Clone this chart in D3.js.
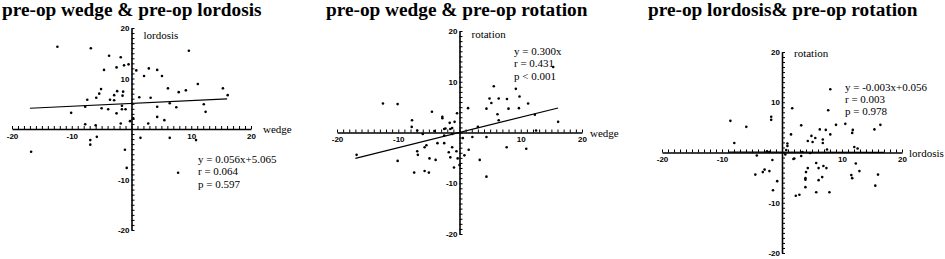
<!DOCTYPE html>
<html>
<head>
<meta charset="utf-8">
<script src="https://cdn.jsdelivr.net/npm/d3@7"></script>
<style>
  body { margin: 0; background: #fff; }
  .title { font-family: "Liberation Serif", "Times New Roman", serif; font-weight: bold; font-size: 19.3px; }
  .lab { font-family: "Liberation Serif", "Times New Roman", serif; font-size: 11px; }
  .stat { font-family: "Liberation Serif", "Times New Roman", serif; font-size: 11px; }
  .axis text { font-family: "Liberation Sans", Arial, sans-serif; font-weight: bold; font-size: 8px; fill: #000; }
  .axis path, .axis line { stroke: #000; }
</style>
</head>
<body>
<div id="chart"></div>
<script>
// Panel 1: pre-op wedge (x) vs pre-op lordosis (y)
var wedgeLordosis = [
  [-12.4, 16.3], [-6.8, 16.0], [9.6, 15.5], [-3.75, 14.5], [-1.8, 14.2], [-2.5, 12.2],
  [-1.25, 12.6], [-0.5, 12.8], [-4.6, 11.7], [0.8, 11.6], [2.9, 12.0], [4.3, 11.7],
  [2.1, 10.5], [5.1, 10.5], [11.1, 8.9], [15.3, 8.05], [16.1, 6.7], [6.1, 8.05],
  [7.9, 7.3], [9.1, 7.65], [-5.1, 7.9], [-5.4, 7.0], [-5.9, 6.2], [-2.4, 7.5],
  [-1.4, 7.4], [-2.9, 6.7], [-1.5, 6.6], [-7.4, 5.8], [-3.6, 5.8], [-2.9, 5.7],
  [1.3, 6.3], [3.2, 6.2], [6.4, 5.1], [12.1, 4.9], [12.4, 3.4], [-7.75, 4.4],
  [-10.1, 3.2], [-5.0, 4.1], [-3.9, 3.9], [-1.6, 4.6], [-1.6, 3.9], [-1.0, 3.9],
  [-2.5, 3.1], [4.3, 4.4], [7.5, 4.3], [4.3, 2.4], [5.5, 1.75], [-1.8, 1.1],
  [-7.75, 0.95], [-6.0, 0.75], [-0.25, 1.55], [0.3, 2.1], [2.8, 1.1], [-6.9, -2.2],
  [-6.9, -3.1], [-5.8, -1.55], [-16.8, -4.5], [-1.1, -4.1], [-0.8, -7.7], [1.5, -1.75],
  [6.4, -1.75], [10.8, -2.2], [7.8, -8.65]
];

// Panel 2: pre-op wedge (x) vs pre-op rotation (y)
var wedgeRotation = [
  [-12.5, 5.7], [-10.1, 5.6], [-7.75, 2.4], [-4.5, 4.1], [-2.8, 3.1], [-2.8, 2.8],
  [-1.6, 1.9], [-0.8, 2.1], [-0.4, 3.8], [1.4, 4.8], [4.4, 4.7], [5.2, 5.8],
  [5.6, 9.1], [4.9, 6.7], [6.4, 6.7], [6.2, 3.6], [6.4, 2.4], [7.75, 6.6],
  [8.0, 4.7], [9.2, 8.6], [9.8, 7.1], [9.7, 4.8], [11.2, 5.7], [12.3, 3.5],
  [15.3, 12.9], [16.1, 2.1], [-7.8, 1.1], [-6.9, 0.4], [-6.0, -0.3], [-4.1, 0.3],
  [-2.5, 0.7], [-1.5, 0.7], [-1.2, -0.3], [3.0, 1.1], [12.5, 0.4], [2.1, -0.9],
  [4.4, -0.9], [-2.5, -0.6], [-2.3, 0.8], [-1.2, 0.9], [-16.8, -4.4], [-10.1, -5.6],
  [-6.9, -3.7], [-6.8, -4.4], [-5.7, -2.9], [-5.4, -2.5], [-4.9, -5.1], [-3.9, -5.4],
  [-3.6, -2.1], [-2.5, -2.1], [-7.4, -7.9], [-5.7, -7.6], [-5.0, -7.9], [-1.75, -3.9],
  [-1.5, -4.9], [-1.2, -2.9], [-0.5, -3.7], [-0.3, -5.1], [0, -6.4], [-0.9, -6.9],
  [0.55, -1.1], [0.8, -4.5], [1.5, -3.4], [3.3, -5.4], [4.4, -8.7], [7.7, -2.9],
  [10.9, -3.2]
];

// Panel 3: pre-op lordosis (x) vs pre-op rotation (y)
var lordosisRotation = [
  [8.05, 12.6], [1.7, 8.8], [7.7, 8.4], [-1.8, 7.1], [-1.8, 6.5], [-8.6, 6.3],
  [-5.95, 5.1], [3.2, 5.4], [9.0, 5.5], [10.55, 5.7], [16.4, 5.5], [-7.95, 1.9],
  [6.3, 4.6], [7.3, 4.5], [8.05, 3.6], [11.8, 4.5], [11.7, 3.9], [15.4, 4.6],
  [1.5, 3.6], [4.9, 3.3], [5.55, 2.9], [4.3, 2.3], [5.1, 2.1], [6.8, 2.6],
  [6.8, 1.9], [0.9, 1.8], [0.9, 1.3], [0.7, 0.5], [-2.5, 0.25], [-2.1, 0.1],
  [-4.2, -0.6], [-1.6, -1.5], [1.9, -1.3], [3.4, 0.1], [4.7, -0.1], [4.3, -3.1],
  [5.7, -2.1], [6.1, -3.1], [6.9, -2.7], [7.4, -3.1], [7.5, 0.6], [12.05, 1.1],
  [12.6, 0.8], [12.3, -2.2], [12.9, -3.7], [-2.9, -3.4], [-2.1, -3.7], [-4.45, -4.4],
  [4.0, -3.9], [16.0, -4.4], [0.55, -0.4], [2.05, -1.2], [3.2, -0.7], [-3.2, -3.9],
  [-0.8, -5.7], [-1.5, -7.5], [3.9, -5.1], [3.9, -5.4], [6.1, -5.5], [6.7, -4.9],
  [3.9, -6.9], [2.3, -8.6], [2.9, -8.4], [5.7, -7.9], [7.9, -7.9], [11.55, -4.5],
  [11.7, -5.1], [15.55, -6.6]
];

var titles = ['pre-op wedge & pre-op lordosis', 'pre-op wedge & pre-op rotation', 'pre-op lordosis& pre-op rotation'];
var xNames = ['wedge', 'wedge', 'lordosis'];
var yNames = ['lordosis', 'rotation', 'rotation'];
// fitted lines: [slope, intercept, xFrom, xTo]
var fits = [[0.056, 5.065, -17, 16], [0.300, 0, -17, 16.1], [-0.003, 0.056, -9, 17]];
var stats = [
  ['y = 0.056x+5.065', 'r = 0.064', 'p = 0.597'],
  ['y = 0.300x', 'r = 0.431', 'p < 0.001'],
  ['y = -0.003x+0.056', 'r = 0.003', 'p = 0.978']
];
var axisDomain = [-20, 20];
var tickValues = d3.range(-20, 21, 1);

var width = 945;
var height = 259;

var svg = d3.select('#chart')
    .append('svg')
    .attr('width', width)
    .attr('height', height);

// layout of each panel (pixels)
var panels = [
  {data: wedgeLordosis, titleX: 2, titleY: 16, x0: 12, x1: 251, yTop: 28, yBot: 230,
    yNameY: 39, xNameX: 263, statX: 198, statY: 163},
  {data: wedgeRotation, titleX: 326, titleY: 16, x0: 337, x1: 582, yTop: 31, yBot: 234,
    yNameY: 38, xNameX: 590, statX: 514, statY: 55},
  {data: lordosisRotation, titleX: 648, titleY: 16, x0: 662, x1: 902, yTop: 52, yBot: 253,
    yNameY: 57, xNameX: 909, statX: 845, statY: 90.5}
];

panels.forEach(function(p, i) {
  var g = svg.append('g');

  var scaleX = d3.scaleLinear().domain(axisDomain).range([p.x0, p.x1]);
  var scaleY = d3.scaleLinear().domain(axisDomain).range([p.yBot, p.yTop]);

  g.append('text')
      .attr('class', 'title')
      .attr('x', p.titleX)
      .attr('y', p.titleY)
      .text(titles[i]);

  var fmt = function(d) {
    return (d !== 0 && d % 10 === 0) ? d : '';
  };

  var axisX = d3.axisBottom(scaleX)
      .tickValues(tickValues)
      .tickSizeInner(-3)
      .tickSizeOuter(0)
      .tickPadding(4)
      .tickFormat(fmt);

  g.append('g')
      .attr('class', 'axis x-axis')
      .attr('transform', 'translate(0,' + scaleY(0) + ')')
      .call(axisX)
      .call(function(s) {
        s.select('.domain').attr('stroke-width', 1.6);
      });

  var axisY = d3.axisLeft(scaleY)
      .tickValues(tickValues)
      .tickSizeInner(-3)
      .tickSizeOuter(0)
      .tickPadding(2)
      .tickFormat(fmt);

  g.append('g')
      .attr('class', 'axis y-axis')
      .attr('transform', 'translate(' + scaleX(0) + ',0)')
      .call(axisY)
      .call(function(s) {
        s.select('.domain').attr('stroke-width', 1.6);
      });

  // axis names
  g.append('text')
      .attr('class', 'lab')
      .attr('x', scaleX(0) + 12)
      .attr('y', p.yNameY)
      .text(yNames[i]);
  g.append('text')
      .attr('class', 'lab')
      .attr('x', p.xNameX)
      .attr('y', scaleY(0) + 4)
      .text(xNames[i]);

  // fitted line
  var f = fits[i];
  g.append('line')
      .attr('x1', scaleX(f[2]))
      .attr('y1', scaleY(f[0] * f[2] + f[1]))
      .attr('x2', scaleX(f[3]))
      .attr('y2', scaleY(f[0] * f[3] + f[1]))
      .attr('stroke', '#000')
      .attr('stroke-width', 1.2);

  // points
  g.append('g')
      .selectAll('circle')
      .data(p.data)
      .enter()
      .append('circle')
      .attr('cx', function(d) {
        return scaleX(d[0]);
      })
      .attr('cy', function(d) {
        return scaleY(d[1]);
      })
      .attr('r', 1.3)
      .attr('fill', '#000');

  // statistics
  g.append('g')
      .selectAll('text')
      .data(stats[i])
      .enter()
      .append('text')
      .attr('class', 'stat')
      .attr('x', p.statX)
      .attr('y', function(d, j) {
        return p.statY + j * 12.3;
      })
      .text(function(d) {
        return d;
      });
});
</script>
</body>
</html>
